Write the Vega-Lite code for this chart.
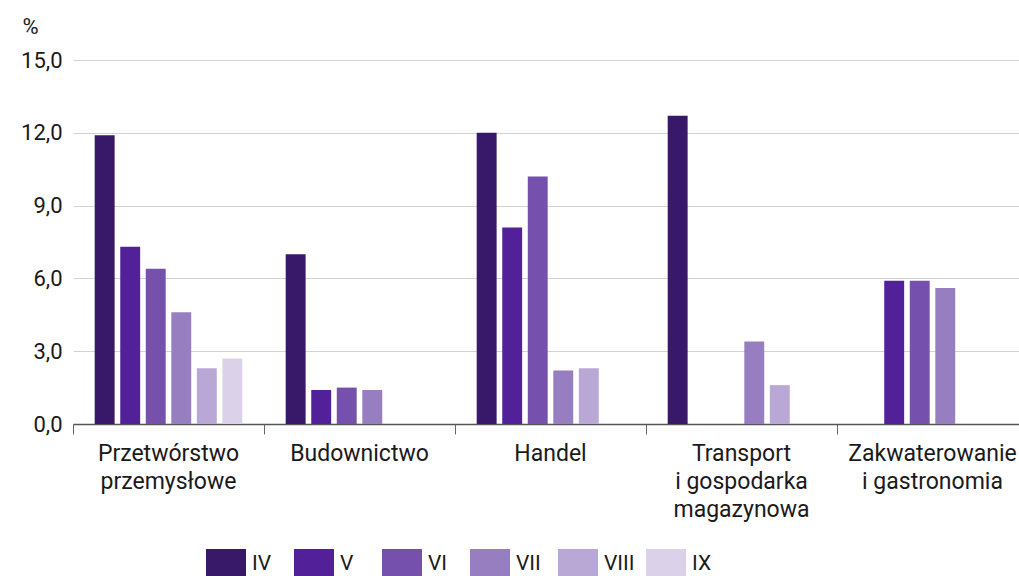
{
  "$schema": "https://vega.github.io/schema/vega-lite/v6.json",
  "width": 946,
  "height": 364,
  "autosize": {"type": "none"},
  "padding": {"left": 73, "top": 60, "right": 0, "bottom": 152},
  "background": "white",
  "config": {
    "view": {"stroke": null},
    "font": "Roboto",
    "axis": {"labelColor": "#1a1a1a", "titleColor": "#1a1a1a"}
  },
  "data": {
    "values": [
      {"category": "Przetwórstwo przemysłowe", "month": "IV", "value": 11.9},
      {"category": "Przetwórstwo przemysłowe", "month": "V", "value": 7.3},
      {"category": "Przetwórstwo przemysłowe", "month": "VI", "value": 6.4},
      {"category": "Przetwórstwo przemysłowe", "month": "VII", "value": 4.6},
      {"category": "Przetwórstwo przemysłowe", "month": "VIII", "value": 2.3},
      {"category": "Przetwórstwo przemysłowe", "month": "IX", "value": 2.7},
      {"category": "Budownictwo", "month": "IV", "value": 7.0},
      {"category": "Budownictwo", "month": "V", "value": 1.4},
      {"category": "Budownictwo", "month": "VI", "value": 1.5},
      {"category": "Budownictwo", "month": "VII", "value": 1.4},
      {"category": "Handel", "month": "IV", "value": 12.0},
      {"category": "Handel", "month": "V", "value": 8.1},
      {"category": "Handel", "month": "VI", "value": 10.2},
      {"category": "Handel", "month": "VII", "value": 2.2},
      {"category": "Handel", "month": "VIII", "value": 2.3},
      {"category": "Transport i gospodarka magazynowa", "month": "IV", "value": 12.7},
      {"category": "Transport i gospodarka magazynowa", "month": "VII", "value": 3.4},
      {"category": "Transport i gospodarka magazynowa", "month": "VIII", "value": 1.6},
      {"category": "Zakwaterowanie i gastronomia", "month": "V", "value": 5.9},
      {"category": "Zakwaterowanie i gastronomia", "month": "VI", "value": 5.9},
      {"category": "Zakwaterowanie i gastronomia", "month": "VII", "value": 5.6}
    ]
  },
  "mark": {"type": "bar"},
  "encoding": {
    "x": {
      "field": "category",
      "type": "nominal",
      "sort": ["Przetwórstwo przemysłowe", "Budownictwo", "Handel", "Transport i gospodarka magazynowa", "Zakwaterowanie i gastronomia"],
      "scale": {"paddingInner": 0, "paddingOuter": 0, "range": [0, 955]},
      "axis": {
        "title": null,
        "labelAngle": 0,
        "labelFontSize": 23,
        "labelPadding": 8,
        "labelBaseline": "top",
        "labelLineHeight": 28,
        "labelLimit": 300,
        "labelExpr": "datum.value == 'Przetwórstwo przemysłowe' ? ['Przetwórstwo', 'przemysłowe'] : datum.value == 'Transport i gospodarka magazynowa' ? ['Transport', 'i gospodarka', 'magazynowa'] : datum.value == 'Zakwaterowanie i gastronomia' ? ['Zakwaterowanie', 'i gastronomia'] : datum.value",
        "bandPosition": 0,
        "ticks": true,
        "tickSize": 10,
        "tickColor": "#666666",
        "tickWidth": 1,
        "domainColor": "#555555",
        "domainWidth": 1.5,
        "grid": false
      }
    },
    "xOffset": {
      "field": "month",
      "type": "nominal",
      "scale": {"domain": ["IV", "V", "VI", "VII", "VIII", "IX"], "paddingInner": 0.22, "paddingOuter": 0.85}
    },
    "y": {
      "field": "value",
      "type": "quantitative",
      "scale": {"domain": [0, 15], "nice": false},
      "axis": {
        "title": "%",
        "titleAngle": 0,
        "titleFontSize": 22,
        "titleFontWeight": "normal",
        "titleAlign": "center",
        "titleBaseline": "alphabetic",
        "titleX": -43,
        "titleY": -27,
        "values": [0, 3, 6, 9, 12, 15],
        "labelExpr": "replace(format(datum.value, '.1f'), '.', ',')",
        "labelFontSize": 22,
        "labelPadding": 11,
        "domain": false,
        "ticks": false,
        "grid": true,
        "gridColor": "#d3d3d3",
        "gridWidth": 1
      }
    },
    "color": {
      "field": "month",
      "type": "nominal",
      "scale": {
        "domain": ["IV", "V", "VI", "VII", "VIII", "IX"],
        "range": ["#381868", "#52219a", "#7550ad", "#977ec0", "#b9a7d5", "#dbd2ea"]
      },
      "legend": {
        "title": null,
        "orient": "none",
        "legendX": 133,
        "legendY": 484,
        "direction": "horizontal",
        "columns": 6,
        "gridAlign": "all",
        "columnPadding": 11,
        "padding": 0,
        "symbolType": "M-1,-0.75H1V0.75H-1Z",
        "symbolSize": 1600,
        "symbolStrokeWidth": 0,
        "symbolOpacity": 1,
        "labelFontSize": 21,
        "labelOffset": 6,
        "labelColor": "#1a1a1a"
      }
    }
  }
}
